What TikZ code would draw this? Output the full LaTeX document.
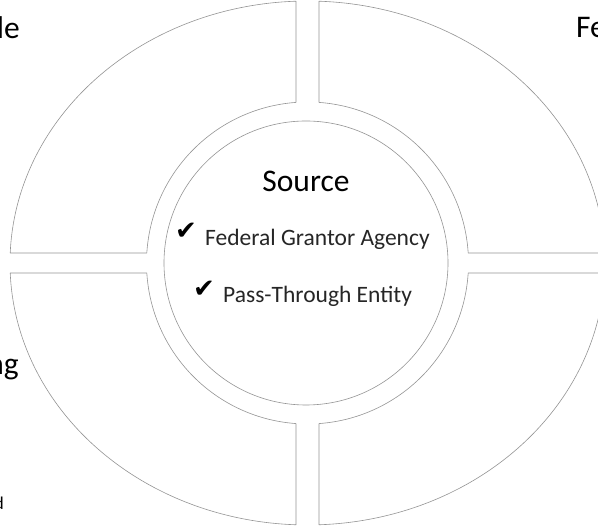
\documentclass[tikz,border=0pt]{standalone}
\usepackage{fontspec}
\setmainfont{Carlito}
\newfontfamily\checkfont{DejaVu Sans}
\begin{document}
\begin{tikzpicture}[x=1pt,y=1pt,
  quad/.style={draw=black!42, line width=0.6pt, fill=white, line join=round},
  ring/.style={draw=black!42, line width=0.6pt, fill=white},
  head/.style={inner sep=0pt, font=\fontsize{31.5}{36}\selectfont, text=black},
  item/.style={inner sep=0pt, font=\fontsize{23.5}{27}\selectfont, text=black!85},
  chk/.style={inner sep=0pt, font=\checkfont\fontsize{26}{30}\selectfont, text=black}]
\useasboundingbox (0,0) rectangle (598,529);
\fill[white] (0,0) rectangle (598,529);
\def\cx{307.5}\def\cy{266}\def\rx{297.5}\def\ry{262}\def\ri{161}\def\gx{11.5}\def\gy{10}
\pgfmathsetmacro\ea{acos(\gx/\rx)}
\pgfmathsetmacro\eb{asin(\gy/\ry)}
\pgfmathsetmacro\ia{acos(\gx/\ri)}
\pgfmathsetmacro\ib{asin(\gy/\ri)}
% top-right quadrant
\draw[quad] ({\cx+\rx*cos(\eb)},{\cy+\ry*sin(\eb)})
  arc[start angle=\eb, end angle=\ea, x radius=\rx, y radius=\ry]
  -- ({\cx+\ri*cos(\ia)},{\cy+\ri*sin(\ia)})
  arc[start angle=\ia, end angle=\ib, radius=\ri] -- cycle;
% top-left quadrant
\draw[quad] ({\cx+\rx*cos(180-\ea)},{\cy+\ry*sin(180-\ea)})
  arc[start angle=180-\ea, end angle=180-\eb, x radius=\rx, y radius=\ry]
  -- ({\cx+\ri*cos(180-\ib)},{\cy+\ri*sin(180-\ib)})
  arc[start angle=180-\ib, end angle=180-\ia, radius=\ri] -- cycle;
% bottom-left quadrant
\draw[quad] ({\cx+\rx*cos(180+\eb)},{\cy+\ry*sin(180+\eb)})
  arc[start angle=180+\eb, end angle=180+\ea, x radius=\rx, y radius=\ry]
  -- ({\cx+\ri*cos(180+\ia)},{\cy+\ri*sin(180+\ia)})
  arc[start angle=180+\ia, end angle=180+\ib, radius=\ri] -- cycle;
% bottom-right quadrant
\draw[quad] ({\cx+\rx*cos(360-\ea)},{\cy+\ry*sin(360-\ea)})
  arc[start angle=360-\ea, end angle=360-\eb, x radius=\rx, y radius=\ry]
  -- ({\cx+\ri*cos(360-\ib)},{\cy+\ri*sin(360-\ib)})
  arc[start angle=360-\ib, end angle=360-\ia, radius=\ri] -- cycle;
% inner circle
\draw[ring] (306,266) circle[radius=142];
% centre texts
\node[head, anchor=base] (src) at (306,337) {Source};
\node[chk, anchor=base west] (c1) at (175,289) {✔};
\node[item, anchor=base west] (t1) at (205,283) {Federal Grantor Agency};
\node[chk, anchor=base west] (c2) at (193,231) {✔};
\node[item, anchor=base west] (t2) at (223,226) {Pass-Through Entity};
% partly visible outer labels
\node[head, anchor=base east] (tl) at (20,490) {le};
\node[head, anchor=base west] (tr) at (576,491) {Fe};
\node[head, anchor=base east] (ml) at (19,154) {ng};
\node[inner sep=0pt, anchor=base east, font=\fontsize{18}{20}\selectfont] (bl) at (4,19) {d};
\end{tikzpicture}
\end{document}
